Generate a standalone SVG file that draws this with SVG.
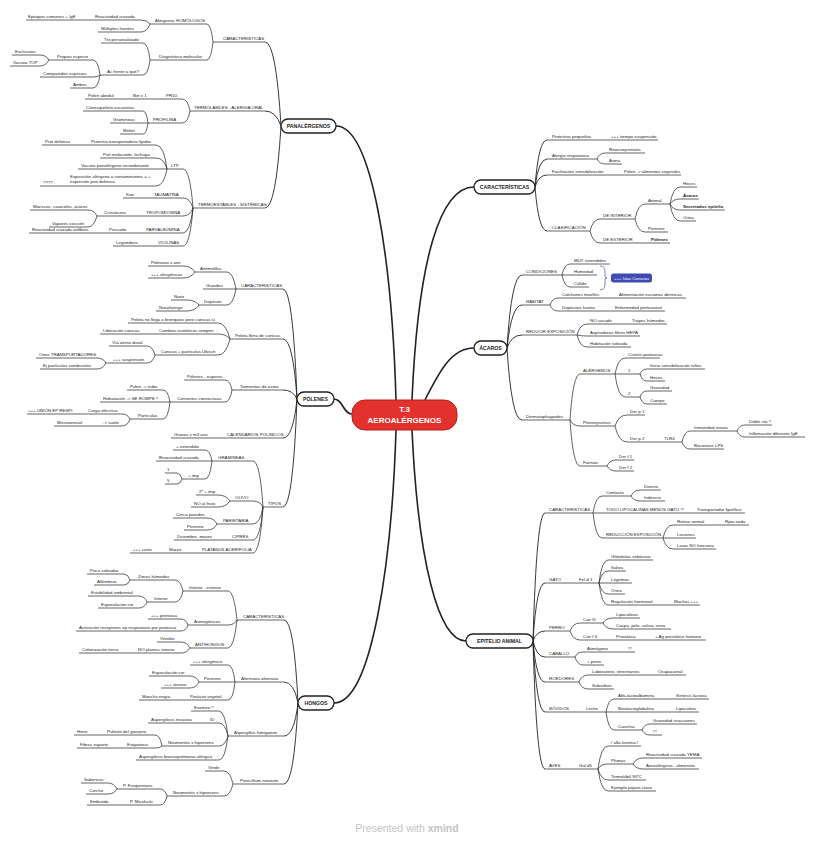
<svg xmlns="http://www.w3.org/2000/svg" width="814" height="848" viewBox="0 0 814 848">
<style>
.t{font-family:"Liberation Sans",Arial,sans-serif;font-size:4.4px;fill:#222}
.b{font-weight:bold}
.u{stroke:#222;stroke-width:0.7;fill:none}
.c{stroke:#222;stroke-width:0.7;fill:none}
.k{stroke:#222;stroke-width:0.9;fill:none}
.m{stroke:#222;stroke-width:1.6;fill:none}
.box{fill:#fff;stroke:#222;stroke-width:1.3}
.mt{font-family:"Liberation Sans",Arial,sans-serif;font-size:5.2px;font-weight:bold;fill:#222;text-anchor:middle}
</style>
<rect width="814" height="848" fill="#fff"/>
<g id="connectors">
<path class="m" d="M396 400C392 260 372 126 336 126"/>
<path class="m" d="M352 414C343 414 343 399 334 399"/>
<path class="m" d="M396 430C392 560 372 703 334 703"/>
<path class="m" d="M412 400C418 260 440 187 474 187"/>
<path class="m" d="M425 400C440 370 452 348 474 348"/>
<path class="m" d="M412 430C418 560 438 641 466 641"/>
<path class="k" d="M265 42Q276 42 281 126M265 111Q276 111 281 126M265 208Q276 208 281 126"/>
<path class="c" d="M207 24Q211 24 213 42M207 60Q211 60 213 42M141 20Q147 20 150 24M141 32Q147 32 150 24M80 20H93M143 43Q148 43 150 60M143 75Q148 75 150 60M93 60Q98 60 100 75M93 77Q98 77 100 75M93 88Q98 88 100 75M40 55Q46 55 49 60M40 66Q46 66 49 60M182 99Q188 99 190 111M182 123Q188 123 190 111M118 99H130M150 99H162M143 111Q146.5 111 148 123M143 123H148M143 134Q146.5 134 148 123M183 169Q190 169 193 208M183 198Q190 198 193 208M183 216Q190 216 193 208M183 233Q190 233 193 208M183 246Q190 246 193 208M156 145Q164 145 167 169M156 158Q164 158 167 169M156 169H167M156 186Q164 186 167 169M73 145H88M53 186H67M135 198H151M129 216H143M88 210Q94 210 97 216M88 227Q94 227 97 216M128 233H143M92 233H106M141 246H155"/>
<path class="k" d="M283 289Q293 289 297 399M283 339Q293 339 297 399M283 390Q293 390 297 399M283 438Q293 438 297 399M283 507Q293 507 297 399"/>
<path class="c" d="M227 272Q233 272 236 289M227 289H236M227 305Q233 305 236 289M183 266Q191 266 195 272M183 278Q191 278 195 272M187 300Q195 300 199 305M187 311Q195 311 199 305M218 323Q226 323 230 339M218 334Q226 334 230 339M218 355Q226 355 230 339M142 334H156M147 346Q152.6 346 155 355M147 363Q152.6 363 155 355M97 358Q103 358 106 363M97 369Q103 369 106 363M225 380Q230 380 232 390M225 402Q230 402 232 390M163 390Q168 390 170 402M163 402H170M163 419Q168 419 170 402M122 414Q127.6 414 130 419M122 426Q127.6 426 130 419M71 414H85M85 426H100M210 438H224M253 461Q260 461 263 507M253 501Q260 501 263 507M253 524Q260 524 263 507M253 540Q260 540 263 507M253 553Q260 553 263 507M205 450Q210 450 212 461M205 461H212M205 479Q210 479 212 461M177 473Q180.5 473 182 479M177 484Q180.5 484 182 479M218 495Q226 495 230 501M218 507Q226 507 230 501M207 518Q214 518 217 524M207 530Q214 530 217 524M216 540H229M185 553H199M153 553H166"/>
<path class="k" d="M284 620Q294 620 298 703M284 682Q294 682 298 703M284 736Q294 736 298 703M284 784Q294 784 298 703"/>
<path class="c" d="M228 591Q234 591 237 620M228 625Q234 625 237 620M228 648Q234 648 237 620M175 580Q180.6 580 183 591M175 602Q180.6 602 183 591M124 574Q128 574 130 580M124 585Q128 585 130 580M139 596Q144.6 596 147 602M139 608Q144.6 608 147 602M181 619Q186 619 188 625M181 631Q186 631 188 625M181 642Q187 642 190 648M181 653Q187 653 190 648M121 653H135M228 665Q233 665 235 682M228 682H235M228 700Q233 700 235 682M190 676Q196 676 199 682M190 688Q196 688 199 682M173 700H187M219 711Q225 711 228 736M219 723Q225 723 228 736M219 746Q225 746 228 736M219 760Q225 760 228 736M193 723H207M155 735Q160 735 162 746M155 748Q160 748 162 746M90 735H104M110 748H124M224 771Q230 771 233 784M224 796Q230 796 233 784M160 789Q165 789 167 796M160 805Q165 805 167 796M108 783Q114 783 117 789M108 794Q114 794 117 789M112 805H127"/>
<path class="k" d="M547 140Q538.6 140 535 187M547 159Q538.6 159 535 187M547 175Q538.6 175 535 187M547 231Q538.6 231 535 187"/>
<path class="c" d="M594 140H608M605 153Q599.4 153 597 159M605 164Q599.4 164 597 159M606 175H621M600 219Q593 219 590 231M600 243Q593 243 590 231M634 243H648M645 204Q638 204 635 219M645 232Q638 232 635 219M680 187Q673 187 670 204M680 199Q673 199 670 204M680 210Q673 210 670 204M680 221Q673 221 670 204"/>
<path class="k" d="M522 275Q511.5 275 507 348M522 305Q511.5 305 507 348M522 335Q511.5 335 507 348M522 420Q511.5 420 507 348"/>
<path class="c" d="M570 264Q564.4 264 562 275M570 275H562M570 287Q564.4 287 562 275M558 298Q552.4 298 550 305M558 311Q552.4 311 550 305M602 298H616M598 311H612M587 324Q580 324 577 335M587 336Q580 336 577 335M587 347Q580 347 577 335M615 324H629M580 374Q573 374 570 420M580 426Q573 426 570 420M580 466Q573 466 570 420M625 358Q618 358 615 374M625 374H615M625 397Q618 397 615 374M647 369Q642 369 640 374M647 381Q642 381 640 374M647 391Q642 391 640 397M647 404Q642 404 640 397M627 415Q618.6 415 615 426M627 442Q618.6 442 615 426M646 442H661M690 431Q684.4 431 682 442M690 449Q684.4 449 682 442M745 425Q739.4 425 737 431M745 437Q739.4 437 737 431M616 460Q609.7 460 607 466M616 471Q609.7 471 607 466"/>
<path class="k" d="M545 513Q536.6 513 533 641M545 583Q536.6 583 533 641M545 631Q536.6 631 533 641M545 657Q536.6 657 533 641M545 682Q536.6 682 533 641M545 712Q536.6 712 533 641M545 769Q536.6 769 533 641"/>
<path class="c" d="M602 496Q595.7 496 593 513M602 513H593M602 538Q595.7 538 593 513M640 490Q633.7 490 631 496M640 501Q633.7 501 631 496M680 513H694M673 525Q666 525 663 538M673 538H663M673 549Q666 549 663 538M707 525H722M563 583H576M608 560Q601.7 560 599 583M608 571Q601.7 571 599 583M608 583H599M608 594Q601.7 594 599 583M608 605Q601.7 605 599 583M657 605H671M580 623Q573 623 570 631M580 640Q573 640 570 631M613 618Q606 618 603 623M613 629Q606 629 603 623M598 640H613M638 640H652M583 652Q577.4 652 575 657M583 665Q577.4 665 575 657M611 652H625M588 675Q581.7 675 579 682M588 689Q581.7 689 579 682M642 675H655M571 712H583M614 699Q608.4 699 606 712M614 712H606M614 730Q608.4 730 606 712M659 699H673M659 712H673M650 724Q644.4 724 642 730M650 735Q644.4 735 642 730M562 769H576M608 746Q601 746 598 769M608 764Q601 764 598 769M608 780Q601 780 598 769M608 791Q601 791 598 769M643 758Q636 758 633 764M643 769Q636 769 633 764"/>
</g>
<g id="center"><rect x="352" y="400" width="105" height="30" rx="13" fill="#e3312d" stroke="#b3201c" stroke-width="1"/><text x="404.5" y="412" font-family="Liberation Sans,Arial,sans-serif" font-size="8" font-weight="bold" fill="#fff" text-anchor="middle">T.3</text><text x="404.5" y="423" font-family="Liberation Sans,Arial,sans-serif" font-size="8" font-weight="bold" fill="#fff" text-anchor="middle">AEROALÉRGENOS</text></g>
<g id="panalergenos"><rect class="box" x="281" y="119" width="55" height="14" rx="7"/><text class="mt" x="308.5" y="128">PANALÉRGENOS</text></g>
<g id="polenes"><rect class="box" x="297" y="392" width="37" height="14" rx="7"/><text class="mt" x="315.5" y="401">PÓLENES</text></g>
<g id="hongos"><rect class="box" x="298" y="696" width="36" height="14" rx="7"/><text class="mt" x="316" y="705">HONGOS</text></g>
<g id="caracteristicas"><rect class="box" x="474" y="180" width="61" height="14" rx="7"/><text class="mt" x="504.5" y="189">CARACTERÍSTICAS</text></g>
<g id="acaros"><rect class="box" x="474" y="341" width="33" height="14" rx="7"/><text class="mt" x="490.5" y="350">ÁCAROS</text></g>
<g id="epitelio"><rect class="box" x="466" y="634" width="67" height="14" rx="7"/><text class="mt" x="499.5" y="643">EPITELIO ANIMAL</text></g>
<g id="p1"><path class="u" d="M213 42H265"/><text class="t" x="223" y="39.6">CARACTERÍSTICAS</text></g>
<g id="p2"><path class="u" d="M150 24H207"/><text class="t" x="155" y="21.6">Alérgenos HOMÓLOGOS</text></g>
<g id="p3"><path class="u" d="M93 20H141"/><text class="t" x="95" y="17.6">Reactividad cruzada</text></g>
<g id="p4"><path class="u" d="M26 20H80"/><text class="t" x="28" y="17.6">Epitopos comunes + IgE</text></g>
<g id="p5"><path class="u" d="M98 32H141"/><text class="t" x="101" y="29.6">Múltiples fuentes</text></g>
<g id="p6"><path class="u" d="M150 60H207"/><text class="t" x="159" y="57.6">Diagnóstico molecular</text></g>
<g id="p7"><path class="u" d="M101 43H143"/><text class="t" x="104" y="40.6">Tto personalizado</text></g>
<g id="p8"><path class="u" d="M100 75H143"/><text class="t" x="107" y="72.6">Ac frente a qué?</text></g>
<g id="p9"><path class="u" d="M49 60H93"/><text class="t" x="57" y="57.6">Propios especie</text></g>
<g id="p10"><path class="u" d="M12 55H40"/><text class="t" x="15" y="52.6">Exclusivos</text></g>
<g id="p11"><path class="u" d="M10 66H40"/><text class="t" x="13" y="63.6">Vacuna TOP</text></g>
<g id="p12"><path class="u" d="M40 77H93"/><text class="t" x="43" y="74.6">Compartidos especies</text></g>
<g id="p13"><path class="u" d="M70 88H93"/><text class="t" x="73" y="85.6">Ambos</text></g>
<g id="p14"><path class="u" d="M190 111H265"/><text class="t" x="194" y="108.6">TERMOLÁBILES - ALERGIA ORAL</text></g>
<g id="p15"><path class="u" d="M162 99H182"/><text class="t" x="166" y="96.6">PR10</text></g>
<g id="p16"><path class="u" d="M130 99H150"/><text class="t" x="133" y="96.6">Bet v 1</text></g>
<g id="p17"><path class="u" d="M85 99H118"/><text class="t" x="88" y="96.6">Polen abedul</text></g>
<g id="p18"><path class="u" d="M148 123H182"/><text class="t" x="153" y="120.6">PROFILINA</text></g>
<g id="p19"><path class="u" d="M83 111H143"/><text class="t" x="86" y="108.6">Citoesqueleto eucariotas</text></g>
<g id="p20"><path class="u" d="M110 123H143"/><text class="t" x="113" y="120.6">Gramíneas</text></g>
<g id="p21"><path class="u" d="M120 134H143"/><text class="t" x="123" y="131.6">Melón</text></g>
<g id="p22"><path class="u" d="M193 208H265"/><text class="t" x="198" y="205.6">TERMOESTABLES - SISTÉMICAS</text></g>
<g id="p23"><path class="u" d="M167 169H183"/><text class="t" x="171" y="166.6">LTP</text></g>
<g id="p24"><path class="u" d="M88 145H156"/><text class="t" x="91" y="142.6">Proteína transportadora lípidos</text></g>
<g id="p25"><path class="u" d="M42 145H73"/><text class="t" x="45" y="142.6">Prot defensa</text></g>
<g id="p26"><path class="u" d="M100 158H156"/><text class="t" x="103" y="155.6">Piel melocotón, lechuga</text></g>
<g id="p27"><path class="u" d="M78 169H156"/><text class="t" x="81" y="166.6">Vacuna panalérgeno recombinante</text></g>
<g id="p28"><path class="u" d="M67 186H156"/><text class="t" x="70" y="178.4">Exposición alérgeno a contaminantes = +</text><text class="t" x="70" y="183.4">expresión prot defensa</text></g>
<g id="p29"><path class="u" d="M40 186H53"/><text class="t" x="43" y="183.6">????</text></g>
<g id="p30"><path class="u" d="M151 198H183"/><text class="t" x="154" y="195.6">TAUMATINA</text></g>
<g id="p31"><path class="u" d="M123 198H135"/><text class="t" x="126" y="195.6">Kiwi</text></g>
<g id="p32"><path class="u" d="M143 216H183"/><text class="t" x="146" y="213.6">TROPOMIOSINA</text></g>
<g id="p33"><path class="u" d="M97 216H129"/><text class="t" x="104" y="213.6">Crustáceos</text></g>
<g id="p34"><path class="u" d="M30 210H88"/><text class="t" x="33" y="207.6">Mariscos, caracoles, ácaros</text></g>
<g id="p35"><path class="u" d="M49 227H88"/><text class="t" x="52" y="224.6">Vapores cocción</text></g>
<g id="p36"><path class="u" d="M143 233H183"/><text class="t" x="146" y="230.6">PARVALBÚMINA</text></g>
<g id="p37"><path class="u" d="M106 233H128"/><text class="t" x="109" y="230.6">Pescado</text></g>
<g id="p38"><path class="u" d="M29 233H92"/><text class="t" x="32" y="230.6">Reactividad cruzada anfibios</text></g>
<g id="p39"><path class="u" d="M155 246H183"/><text class="t" x="158" y="243.6">VICILINAS</text></g>
<g id="p40"><path class="u" d="M113 246H141"/><text class="t" x="116" y="243.6">Legumbres</text></g>
<g id="q1"><path class="u" d="M236 289H283"/><text class="t" x="241" y="286.6">CARACTERÍSTICAS</text></g>
<g id="q2"><path class="u" d="M195 272H227"/><text class="t" x="200" y="269.6">Anemófilas</text></g>
<g id="q3"><path class="u" d="M148 266H183"/><text class="t" x="151" y="263.6">Polinizan x aire</text></g>
<g id="q4"><path class="u" d="M148 278H183"/><text class="t" x="151" y="275.6">+++ alergénicas</text></g>
<g id="q5"><path class="u" d="M203 289H227"/><text class="t" x="206" y="286.6">Grandes</text></g>
<g id="q6"><path class="u" d="M199 305H227"/><text class="t" x="204" y="302.6">Depósito</text></g>
<g id="q7"><path class="u" d="M171 300H187"/><text class="t" x="174" y="297.6">Nariz</text></g>
<g id="q8"><path class="u" d="M156 311H187"/><text class="t" x="159" y="308.6">Nasofaringe</text></g>
<g id="q9"><path class="u" d="M230 339H283"/><text class="t" x="235" y="336.6">Pelota llena de canicas</text></g>
<g id="q10"><path class="u" d="M128 323H218"/><text class="t" x="131" y="320.6">Pelota no llega a bronquios pero canicas sí</text></g>
<g id="q11"><path class="u" d="M156 334H218"/><text class="t" x="159" y="331.6">Cambios osmóticos rompen</text></g>
<g id="q12"><path class="u" d="M100 334H142"/><text class="t" x="103" y="331.6">Liberación canicas</text></g>
<g id="q13"><path class="u" d="M155 355H218"/><text class="t" x="161" y="352.6">Canicas + partículas Ubisch</text></g>
<g id="q14"><path class="u" d="M109 346H147"/><text class="t" x="112" y="343.6">Vía aérea distal</text></g>
<g id="q15"><path class="u" d="M106 363H147"/><text class="t" x="113" y="360.6">+++ suspensión</text></g>
<g id="q16"><path class="u" d="M36 358H97"/><text class="t" x="39" y="355.6">Otros TRANSPORTADORES</text></g>
<g id="q17"><path class="u" d="M40 369H97"/><text class="t" x="43" y="366.6">Ej partículas combustión</text></g>
<g id="q18"><path class="u" d="M232 390H283"/><text class="t" x="240" y="387.6">Tormentas de asma</text></g>
<g id="q19"><path class="u" d="M184 380H225"/><text class="t" x="187" y="377.6">Pólenes - esporas</text></g>
<g id="q20"><path class="u" d="M170 402H225"/><text class="t" x="177" y="399.6">Corrientes convectivas</text></g>
<g id="q21"><path class="u" d="M127 390H163"/><text class="t" x="130" y="387.6">Polen -&gt; nube</text></g>
<g id="q22"><path class="u" d="M100 402H163"/><text class="t" x="103" y="399.6">Hidratación -&gt; SE ROMPE !!</text></g>
<g id="q23"><path class="u" d="M130 419H163"/><text class="t" x="138" y="416.6">Partículas</text></g>
<g id="q24"><path class="u" d="M85 414H122"/><text class="t" x="88" y="411.6">Carga eléctrica</text></g>
<g id="q25"><path class="u" d="M27 414H71"/><text class="t" x="28" y="411.6">+++ UNIÓN EP RESPI</text></g>
<g id="q26"><path class="u" d="M100 426H122"/><text class="t" x="103" y="423.6">-&gt; suelo</text></g>
<g id="q27"><path class="u" d="M54 426H85"/><text class="t" x="57" y="423.6">Microaerosol</text></g>
<g id="q28"><path class="u" d="M224 438H283"/><text class="t" x="227" y="435.6">CALENDARIOS POLÍNICOS</text></g>
<g id="q29"><path class="u" d="M171 438H210"/><text class="t" x="174" y="435.6">Granos x m3 aire</text></g>
<g id="q30"><path class="u" d="M263 507H283"/><text class="t" x="268" y="504.6">TIPOS</text></g>
<g id="q31"><path class="u" d="M212 461H253"/><text class="t" x="218" y="458.6">GRAMÍNEAS</text></g>
<g id="q32"><path class="u" d="M173 450H205"/><text class="t" x="176" y="447.6">+ extendido</text></g>
<g id="q33"><path class="u" d="M156 461H205"/><text class="t" x="159" y="458.6">Reactividad cruzada</text></g>
<g id="q34"><path class="u" d="M182 479H205"/><text class="t" x="188" y="476.6">+ imp</text></g>
<g id="q35"><path class="u" d="M165 473H177"/><text class="t" x="167" y="470.6">1</text></g>
<g id="q36"><path class="u" d="M165 484H177"/><text class="t" x="167" y="481.6">5</text></g>
<g id="q37"><path class="u" d="M230 501H253"/><text class="t" x="235" y="498.6">OLIVO</text></g>
<g id="q38"><path class="u" d="M196 495H218"/><text class="t" x="199" y="492.6">2º + imp</text></g>
<g id="q39"><path class="u" d="M191 507H218"/><text class="t" x="194" y="504.6">NO al fruto</text></g>
<g id="q40"><path class="u" d="M217 524H253"/><text class="t" x="223" y="521.6">PARIETARIA</text></g>
<g id="q41"><path class="u" d="M173 518H207"/><text class="t" x="176" y="515.6">Cerca paredes</text></g>
<g id="q42"><path class="u" d="M184 530H207"/><text class="t" x="187" y="527.6">Perenne</text></g>
<g id="q43"><path class="u" d="M229 540H253"/><text class="t" x="232" y="537.6">CIPRÉS</text></g>
<g id="q44"><path class="u" d="M174 540H216"/><text class="t" x="177" y="537.6">Diciembre- marzo</text></g>
<g id="q45"><path class="u" d="M199 553H253"/><text class="t" x="202" y="550.6">PLATANUS ACERIFOLIA</text></g>
<g id="q46"><path class="u" d="M166 553H185"/><text class="t" x="169" y="550.6">Marzo</text></g>
<g id="q47"><path class="u" d="M130 553H153"/><text class="t" x="133" y="550.6">+++ corto</text></g>
<g id="h1"><path class="u" d="M237 620H284"/><text class="t" x="243" y="617.6">CARACTERÍSTICAS</text></g>
<g id="h2"><path class="u" d="M183 591H228"/><text class="t" x="189" y="588.6">Interior - exterior</text></g>
<g id="h3"><path class="u" d="M130 580H175"/><text class="t" x="138" y="577.6">Zonas húmedas</text></g>
<g id="h4"><path class="u" d="M87 574H124"/><text class="t" x="90" y="571.6">Poco soleadas</text></g>
<g id="h5"><path class="u" d="M94 585H124"/><text class="t" x="97" y="582.6">Alfombras</text></g>
<g id="h6"><path class="u" d="M147 602H175"/><text class="t" x="154" y="599.6">Interior</text></g>
<g id="h7"><path class="u" d="M88 596H139"/><text class="t" x="91" y="593.6">Estabilidad ambiental</text></g>
<g id="h8"><path class="u" d="M98 608H139"/><text class="t" x="101" y="605.6">Esporulación cte</text></g>
<g id="h9"><path class="u" d="M188 625H228"/><text class="t" x="194" y="622.6">Asmogénicos</text></g>
<g id="h10"><path class="u" d="M148 619H181"/><text class="t" x="151" y="616.6">+++ proteasa</text></g>
<g id="h11"><path class="u" d="M76 631H181"/><text class="t" x="79" y="628.6">Activación receptores ep respiratorio por proteasa</text></g>
<g id="h12"><path class="u" d="M190 648H228"/><text class="t" x="195" y="645.6">ANTIHONGOS</text></g>
<g id="h13"><path class="u" d="M157 642H181"/><text class="t" x="160" y="639.6">Ventilar</text></g>
<g id="h14"><path class="u" d="M135 653H181"/><text class="t" x="138" y="650.6">NO plantas interior</text></g>
<g id="h15"><path class="u" d="M79 653H121"/><text class="t" x="82" y="650.6">Colonización tierra</text></g>
<g id="h16"><path class="u" d="M235 682H284"/><text class="t" x="241" y="679.6">Alternaria alternata</text></g>
<g id="h17"><path class="u" d="M190 665H228"/><text class="t" x="193" y="662.6">+++ alergénico</text></g>
<g id="h18"><path class="u" d="M199 682H228"/><text class="t" x="204" y="679.6">Perenne</text></g>
<g id="h19"><path class="u" d="M149 676H190"/><text class="t" x="152" y="673.6">Esporulación cte</text></g>
<g id="h20"><path class="u" d="M161 688H190"/><text class="t" x="164" y="685.6">+++ verano</text></g>
<g id="h21"><path class="u" d="M187 700H228"/><text class="t" x="190" y="697.6">Parásito vegetal</text></g>
<g id="h22"><path class="u" d="M139 700H173"/><text class="t" x="142" y="697.6">Mancha negra</text></g>
<g id="h23"><path class="u" d="M228 736H284"/><text class="t" x="234" y="733.6">Aspergillus fumigatum</text></g>
<g id="h24"><path class="u" d="M191 711H219"/><text class="t" x="194" y="708.6">Examen !!</text></g>
<g id="h25"><path class="u" d="M207 723H219"/><text class="t" x="210" y="720.6">ID</text></g>
<g id="h26"><path class="u" d="M148 723H193"/><text class="t" x="151" y="720.6">Aspergilosis invasiva</text></g>
<g id="h27"><path class="u" d="M162 746H219"/><text class="t" x="168" y="743.6">Neumonitis x hipersens</text></g>
<g id="h28"><path class="u" d="M104 735H155"/><text class="t" x="107" y="732.6">Pulmón del granjero</text></g>
<g id="h29"><path class="u" d="M74 735H90"/><text class="t" x="77" y="732.6">Heno</text></g>
<g id="h30"><path class="u" d="M124 748H155"/><text class="t" x="127" y="745.6">Estipatosis</text></g>
<g id="h31"><path class="u" d="M77 748H110"/><text class="t" x="80" y="745.6">Fibras esparto</text></g>
<g id="h32"><path class="u" d="M136 760H219"/><text class="t" x="139" y="757.6">Aspergilosis broncopulmonar alérgica</text></g>
<g id="h33"><path class="u" d="M233 784H284"/><text class="t" x="240" y="781.6">Penicillium notatum</text></g>
<g id="h34"><path class="u" d="M205 771H224"/><text class="t" x="208" y="768.6">Verde</text></g>
<g id="h35"><path class="u" d="M167 796H224"/><text class="t" x="173" y="793.6">Neumonitis x hipersens</text></g>
<g id="h36"><path class="u" d="M117 789H160"/><text class="t" x="123" y="786.6">P. Frequentans</text></g>
<g id="h37"><path class="u" d="M81 783H108"/><text class="t" x="84" y="780.6">Suberosis</text></g>
<g id="h38"><path class="u" d="M86 794H108"/><text class="t" x="89" y="791.6">Corcho</text></g>
<g id="h39"><path class="u" d="M127 805H160"/><text class="t" x="130" y="802.6">P. Micolsski</text></g>
<g id="h40"><path class="u" d="M87 805H112"/><text class="t" x="90" y="802.6">Embutido</text></g>
<g id="r1"><path class="u" d="M547 140H594"/><text class="t" x="552" y="137.6">Proteínas pequeñas</text></g>
<g id="r2"><path class="u" d="M608 140H658"/><text class="t" x="611" y="137.6">+++ tiempo suspensión</text></g>
<g id="r3"><path class="u" d="M547 159H597"/><text class="t" x="552" y="156.6">Alergia respiratoria</text></g>
<g id="r4"><path class="u" d="M605 153H645"/><text class="t" x="609" y="150.6">Rinoconjuntivitis</text></g>
<g id="r5"><path class="u" d="M605 164H622"/><text class="t" x="609" y="161.6">Asma</text></g>
<g id="r6"><path class="u" d="M547 175H606"/><text class="t" x="552" y="172.6">Facilitación sensibilización</text></g>
<g id="r7"><path class="u" d="M621 175H681"/><text class="t" x="624" y="172.6">Polen -&gt; alimentos vegetales</text></g>
<g id="r8"><path class="u" d="M547 231H590"/><text class="t" x="552" y="228.6">CLASIFICACIÓN</text></g>
<g id="r9"><path class="u" d="M600 219H635"/><text class="t" x="603" y="216.6">DE INTERIOR</text></g>
<g id="r10"><path class="u" d="M600 243H634"/><text class="t" x="603" y="240.6">DE EXTERIOR</text></g>
<g id="r11"><path class="u" d="M648 243H670"/><text class="t b" x="651" y="240.6">Pólenes</text></g>
<g id="r12"><path class="u" d="M645 204H670"/><text class="t" x="648" y="201.6">Animal</text></g>
<g id="r13"><path class="u" d="M645 232H668"/><text class="t" x="648" y="229.6">Perenne</text></g>
<g id="r14"><path class="u" d="M680 187H697"/><text class="t" x="683" y="184.6">Heces</text></g>
<g id="r15"><path class="u" d="M680 199H699"/><text class="t b" x="683" y="196.6">Ácaros</text></g>
<g id="r16"><path class="u" d="M680 210H725"/><text class="t b" x="683" y="207.6">Secretados epitelio</text></g>
<g id="r17"><path class="u" d="M680 221H696"/><text class="t" x="683" y="218.6">Orina</text></g>
<g id="a1"><path class="u" d="M522 275H562"/><text class="t" x="526" y="272.6">CONDICIONES</text></g>
<g id="a2"><path class="u" d="M570 264H610"/><text class="t" x="574" y="261.6">MUY extendidos</text></g>
<g id="a3"><path class="u" d="M570 275H597"/><text class="t" x="574" y="272.6">Humedad</text></g>
<g id="a4"><path class="u" d="M570 287H589"/><text class="t" x="574" y="284.6">Cálido</text></g>
<g id="summary"><path d="M600 266Q605 266 605 272V276Q605 278 607 278Q605 278 605 280V284Q605 290 600 290" fill="none" stroke="#3f51b5" stroke-width="0.7"/><rect x="611" y="273.5" width="41" height="9" rx="2.5" fill="#3f4bb5"/><text x="631.5" y="279.6" font-family="Liberation Sans,Arial,sans-serif" font-size="4.2" fill="#fff" text-anchor="middle">+++ Islas Canarias</text></g>
<g id="a5"><path class="u" d="M522 305H550"/><text class="t" x="526" y="302.6">HÁBITAT</text></g>
<g id="a6"><path class="u" d="M558 298H602"/><text class="t" x="562" y="295.6">Colchones muelles</text></g>
<g id="a7"><path class="u" d="M616 298H686"/><text class="t" x="619" y="295.6">Alimentación escamas dérmicas</text></g>
<g id="a8"><path class="u" d="M558 311H598"/><text class="t" x="562" y="308.6">Depósitos harina</text></g>
<g id="a9"><path class="u" d="M612 311H665"/><text class="t" x="615" y="308.6">Enfermedad profesional</text></g>
<g id="a10"><path class="u" d="M522 335H577"/><text class="t" x="526" y="332.6">REDUCIR EXPOSICIÓN</text></g>
<g id="a11"><path class="u" d="M587 324H615"/><text class="t" x="590" y="321.6">NO sacudir</text></g>
<g id="a12"><path class="u" d="M629 324H667"/><text class="t" x="632" y="321.6">Trapos húmedos</text></g>
<g id="a13"><path class="u" d="M587 336H640"/><text class="t" x="590" y="333.6">Aspiradoras filtros HEPA</text></g>
<g id="a14"><path class="u" d="M587 347H631"/><text class="t" x="590" y="344.6">Habitación soleada</text></g>
<g id="a15"><path class="u" d="M522 420H570"/><text class="t" x="526" y="417.6">Dermatophagoides</text></g>
<g id="a16"><path class="u" d="M580 374H615"/><text class="t" x="583" y="371.6">ALÉRGENOS</text></g>
<g id="a17"><path class="u" d="M625 358H660"/><text class="t" x="628" y="355.6">Cisteín-proteasas</text></g>
<g id="a18"><path class="u" d="M625 374H640"/><text class="t" x="628" y="371.6">1</text></g>
<g id="a19"><path class="u" d="M647 369H705"/><text class="t" x="650" y="366.6">Inicio sensibilización niños</text></g>
<g id="a20"><path class="u" d="M647 381H665"/><text class="t" x="650" y="378.6">Heces</text></g>
<g id="a21"><path class="u" d="M625 397H640"/><text class="t" x="628" y="394.6">2</text></g>
<g id="a22"><path class="u" d="M647 391H672"/><text class="t" x="650" y="388.6">Gravedad</text></g>
<g id="a23"><path class="u" d="M647 404H667"/><text class="t" x="650" y="401.6">Cuerpo</text></g>
<g id="a24"><path class="u" d="M580 426H615"/><text class="t" x="583" y="423.6">Pteronyssinus</text></g>
<g id="a25"><path class="u" d="M627 415H645"/><text class="t" x="630" y="412.6">Der p 1</text></g>
<g id="a26"><path class="u" d="M627 442H646"/><text class="t" x="630" y="439.6">Der p 2</text></g>
<g id="a27"><path class="u" d="M661 442H682"/><text class="t" x="664" y="439.6">TLR4</text></g>
<g id="a28"><path class="u" d="M690 431H737"/><text class="t" x="694" y="428.6">Inmunidad innata</text></g>
<g id="a29"><path class="u" d="M690 449H724"/><text class="t" x="694" y="446.6">Reconoce LPS</text></g>
<g id="a30"><path class="u" d="M745 425H772"/><text class="t" x="749" y="422.6">Doble vía !!</text></g>
<g id="a31"><path class="u" d="M745 437H805"/><text class="t" x="749" y="434.6">Inflamación diferente IgE</text></g>
<g id="a32"><path class="u" d="M580 466H607"/><text class="t" x="583" y="463.6">Farinae</text></g>
<g id="a33"><path class="u" d="M616 460H634"/><text class="t" x="619" y="457.6">Der f 1</text></g>
<g id="a34"><path class="u" d="M616 471H634"/><text class="t" x="619" y="468.6">Der f 2</text></g>
<g id="e1"><path class="u" d="M545 513H593"/><text class="t" x="549" y="510.6">CARACTERÍSTICAS</text></g>
<g id="e2"><path class="u" d="M602 496H631"/><text class="t" x="606" y="493.6">Contacto</text></g>
<g id="e3"><path class="u" d="M640 490H661"/><text class="t" x="644" y="487.6">Directo</text></g>
<g id="e4"><path class="u" d="M640 501H665"/><text class="t" x="644" y="498.6">Indirecto</text></g>
<g id="e5"><path class="u" d="M602 513H680"/><text class="t" x="606" y="510.6">TODO LIPOCALINAS MENOS GATO !!!</text></g>
<g id="e6"><path class="u" d="M694 513H745"/><text class="t" x="697" y="510.6">Transportador lipofílico</text></g>
<g id="e7"><path class="u" d="M602 538H663"/><text class="t" x="606" y="535.6">REDUCCIÓN EXPOSICIÓN</text></g>
<g id="e8"><path class="u" d="M673 525H707"/><text class="t" x="677" y="522.6">Retirar animal</text></g>
<g id="e9"><path class="u" d="M722 525H749"/><text class="t" x="725" y="522.6">Rpta tarda</text></g>
<g id="e10"><path class="u" d="M673 538H696"/><text class="t" x="677" y="535.6">Lociones</text></g>
<g id="e11"><path class="u" d="M673 549H716"/><text class="t" x="677" y="546.6">Lavar NO funciona</text></g>
<g id="e12"><path class="u" d="M545 583H563"/><text class="t" x="549" y="580.6">GATO</text></g>
<g id="e13"><path class="u" d="M576 583H599"/><text class="t" x="579" y="580.6">Fel d 1</text></g>
<g id="e14"><path class="u" d="M608 560H653"/><text class="t" x="611" y="557.6">Glándulas sebáceas</text></g>
<g id="e15"><path class="u" d="M608 571H626"/><text class="t" x="611" y="568.6">Saliva</text></g>
<g id="e16"><path class="u" d="M608 583H632"/><text class="t" x="611" y="580.6">Lágrimas</text></g>
<g id="e17"><path class="u" d="M608 594H625"/><text class="t" x="611" y="591.6">Orina</text></g>
<g id="e18"><path class="u" d="M608 605H657"/><text class="t" x="611" y="602.6">Regulación hormonal</text></g>
<g id="e19"><path class="u" d="M671 605H700"/><text class="t" x="674" y="602.6">Machos +++</text></g>
<g id="e20"><path class="u" d="M545 631H570"/><text class="t" x="549" y="628.6">PERRO</text></g>
<g id="e21"><path class="u" d="M580 623H603"/><text class="t" x="583" y="620.6">Can f1</text></g>
<g id="e22"><path class="u" d="M613 618H640"/><text class="t" x="616" y="615.6">Lipocalinas</text></g>
<g id="e23"><path class="u" d="M613 629H671"/><text class="t" x="616" y="626.6">Caspa, pelo, saliva, orina</text></g>
<g id="e24"><path class="u" d="M580 640H598"/><text class="t" x="583" y="637.6">Can f 5</text></g>
<g id="e25"><path class="u" d="M613 640H638"/><text class="t" x="616" y="637.6">Prostática</text></g>
<g id="e26"><path class="u" d="M652 640H706"/><text class="t" x="655" y="637.6">+ Ag prostático humano</text></g>
<g id="e27"><path class="u" d="M545 657H575"/><text class="t" x="549" y="654.6">CABALLO</text></g>
<g id="e28"><path class="u" d="M583 652H611"/><text class="t" x="587" y="649.6">Asmógeno</text></g>
<g id="e29"><path class="u" d="M625 652H635"/><text class="t" x="628" y="649.6">!!!</text></g>
<g id="e30"><path class="u" d="M583 665H604"/><text class="t" x="587" y="662.6">+ perro</text></g>
<g id="e31"><path class="u" d="M545 682H579"/><text class="t" x="549" y="679.6">ROEDORES</text></g>
<g id="e32"><path class="u" d="M588 675H642"/><text class="t" x="592" y="672.6">Laboratorio, veterinarios</text></g>
<g id="e33"><path class="u" d="M655 675H686"/><text class="t" x="658" y="672.6">Ocupacional</text></g>
<g id="e34"><path class="u" d="M588 689H614"/><text class="t" x="592" y="686.6">Suburbios</text></g>
<g id="e35"><path class="u" d="M545 712H571"/><text class="t" x="549" y="709.6">BÓVIDOS</text></g>
<g id="e36"><path class="u" d="M583 712H606"/><text class="t" x="586" y="709.6">Leche</text></g>
<g id="e37"><path class="u" d="M614 699H659"/><text class="t" x="618" y="696.6">Alfa-lactoalbúmina</text></g>
<g id="e38"><path class="u" d="M673 699H709"/><text class="t" x="676" y="696.6">Síntesis lactosa</text></g>
<g id="e39"><path class="u" d="M614 712H659"/><text class="t" x="618" y="709.6">Betalactoglobulina</text></g>
<g id="e40"><path class="u" d="M673 712H699"/><text class="t" x="676" y="709.6">Lipocalina</text></g>
<g id="e41"><path class="u" d="M614 730H642"/><text class="t" x="618" y="727.6">Caseína</text></g>
<g id="e42"><path class="u" d="M650 724H697"/><text class="t" x="653" y="721.6">Gravedad reacciones</text></g>
<g id="e43"><path class="u" d="M650 735H662"/><text class="t" x="653" y="732.6">!!!</text></g>
<g id="e44"><path class="u" d="M545 769H562"/><text class="t" x="549" y="766.6">AVES</text></g>
<g id="e45"><path class="u" d="M576 769H598"/><text class="t" x="579" y="766.6">Gal d5</text></g>
<g id="e46"><path class="u" d="M608 746H641"/><text class="t" x="611" y="743.6">/ alfa-livetina /</text></g>
<g id="e47"><path class="u" d="M608 764H633"/><text class="t" x="611" y="761.6">Plumas</text></g>
<g id="e48"><path class="u" d="M643 758H702"/><text class="t" x="646" y="755.6">Reactividad cruzada YEMA</text></g>
<g id="e49"><path class="u" d="M643 769H699"/><text class="t" x="646" y="766.6">Aeroalérgeno - alimentos</text></g>
<g id="e50"><path class="u" d="M608 780H646"/><text class="t" x="611" y="777.6">Termolábil 90ºC</text></g>
<g id="e51"><path class="u" d="M608 791H656"/><text class="t" x="611" y="788.6">Ejemplo pájaro-clase</text></g>
<g id="footer"><text x="407" y="832" font-family="Liberation Sans,Arial,sans-serif" font-size="10.5" fill="#c4c4c4" text-anchor="middle">Presented with <tspan font-weight="bold">xmind</tspan></text></g>
</svg>
